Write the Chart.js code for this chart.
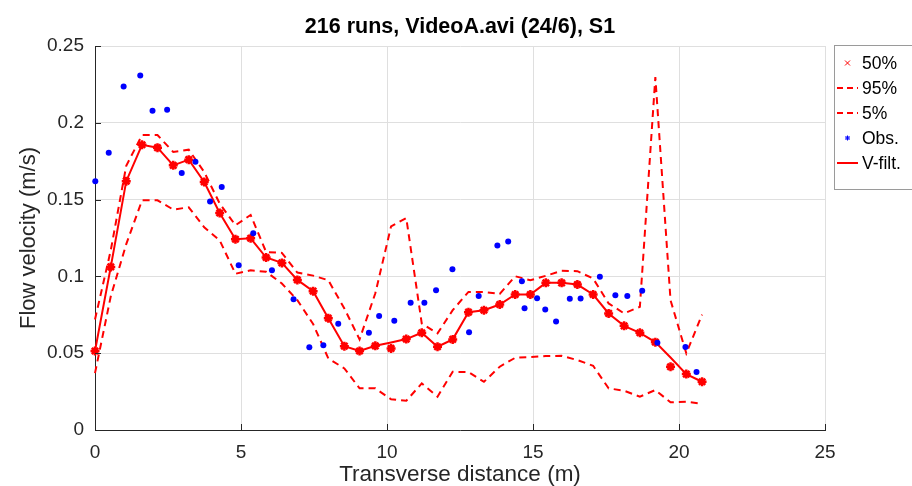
<!DOCTYPE html>
<html>
<head>
<meta charset="utf-8">
<script src="https://cdn.jsdelivr.net/npm/chart.js@4.4.0/dist/chart.umd.min.js"></script>
<style>
  html, body { margin: 0; padding: 0; background: #fff; }
  #wrap { width: 912px; height: 486px; }
</style>
</head>
<body>
<div id="wrap"><canvas id="chart" width="912" height="486"></canvas></div>
<script>
// x positions of the 50% / 95% / 5% runs (m)
const runX = [0, 0.54, 1.07, 1.61, 2.14, 2.68, 3.21, 3.74, 4.27, 4.81,
  5.33, 5.86, 6.40, 6.93, 7.47, 7.99, 8.54, 9.06, 9.60, 10.14,
  10.66, 11.19, 11.73, 12.25, 12.79, 13.32, 13.86, 14.39, 14.91, 15.44,
  15.98, 16.52, 17.06, 17.59, 18.12, 18.66, 19.19, 19.71, 20.25, 20.79];

const p50 = [0.0514, 0.1062, 0.162, 0.1857, 0.1838, 0.1723, 0.176, 0.1615, 0.1413, 0.1242,
  0.1248, 0.1123, 0.1088, 0.0977, 0.0904, 0.0728, 0.0546, 0.0514, 0.0548, 0.0531,
  0.0592, 0.0633, 0.0542, 0.0590, 0.0767, 0.0780, 0.0817, 0.0882, 0.0882, 0.0958,
  0.0958, 0.0947, 0.0882, 0.0759, 0.0678, 0.0633, 0.0572, 0.0412, 0.0364, 0.0314];

const p95 = [0.072, 0.117, 0.172, 0.192, 0.192, 0.181, 0.1825, 0.168, 0.1474, 0.1333,
  0.140, 0.1159, 0.1153, 0.1025, 0.1005, 0.0975, 0.0791, 0.0590, 0.089, 0.1326,
  0.138, 0.0694, 0.0629, 0.078, 0.0899, 0.0899, 0.0886, 0.1001, 0.0975, 0.1004,
  0.1036, 0.1034, 0.0986, 0.0824, 0.0759, 0.0802, 0.2297, 0.0845, 0.0499, 0.0751];

const p5 = [0.037, 0.087, 0.121, 0.1495, 0.1495, 0.1435, 0.145, 0.132, 0.1235, 0.1017,
  0.104, 0.103, 0.0954, 0.0845, 0.069, 0.0466, 0.0401, 0.0271, 0.0271, 0.020,
  0.019, 0.0303, 0.0217, 0.0379, 0.0377, 0.0314, 0.0412, 0.047, 0.0475, 0.0481,
  0.0483, 0.0455, 0.0418, 0.0271, 0.0256, 0.0217, 0.026, 0.018, 0.0184, 0.0171];

// filtered velocity, same x as the runs
const vFilt = [0.0514, 0.1062, 0.162, 0.1857, 0.1838, 0.1723, 0.176, 0.1615, 0.1413, 0.1242,
  0.1248, 0.1123, 0.1088, 0.0977, 0.0904, 0.0728, 0.0546, 0.0514, 0.0548, 0.0570,
  0.0592, 0.0633, 0.0542, 0.0590, 0.0767, 0.0780, 0.0817, 0.0882, 0.0882, 0.0958,
  0.0958, 0.0947, 0.0882, 0.0759, 0.0678, 0.0633, 0.0572, 0.0472, 0.0364, 0.0314];

// observed points
const obsX = [0.01, 0.47, 0.98, 1.55, 1.97, 2.47, 2.97, 3.44, 3.94, 4.34,
  4.92, 5.42, 6.06, 6.80, 7.34, 7.82, 8.33, 9.38, 9.73, 10.25,
  10.81, 11.28, 11.68, 12.24, 12.81, 13.14, 13.78, 14.15, 14.62, 14.71,
  15.14, 15.42, 15.79, 16.26, 16.63, 17.29, 17.82, 18.23, 18.74, 19.26,
  20.22, 20.6];
const obsY = [0.162, 0.1805, 0.2237, 0.2308, 0.2079, 0.2085, 0.1673, 0.1747, 0.1487, 0.1582,
  0.1073, 0.1281, 0.104, 0.0852, 0.0538, 0.0551, 0.0691, 0.0633, 0.0743, 0.0711,
  0.0828, 0.0828, 0.091, 0.1047, 0.0637, 0.0873, 0.1201, 0.1227, 0.0969, 0.0793,
  0.0858, 0.0785, 0.0707, 0.0854, 0.0856, 0.0997, 0.0878, 0.0873, 0.0906, 0.0568,
  0.054, 0.0377];

const xTicks = [0, 5, 10, 15, 20, 25];
const yTicks = [0, 0.05, 0.1, 0.15, 0.2, 0.25];
const legendNames = ['50%', '95%', '5%', 'Obs.', 'V-filt.'];

const FONT = "'Liberation Sans', Helvetica, Arial, sans-serif";
const RED = '#ff0000';
const BLUE = '#0000ff';
const AX = '#262626';

function pts(xs, ys) {
  return xs.map((x, i) => ({ x: x, y: ys[i] }));
}

// matlab style ticks pointing into the plot + the legend box on the right
const matlabBits = {
  id: 'matlabBits',
  afterDraw(chart) {
    const ctx = chart.ctx;
    const xs = chart.scales.x, ys = chart.scales.y;
    const a = chart.chartArea;
    ctx.save();
    ctx.strokeStyle = AX;
    ctx.lineWidth = 1;
    ctx.beginPath();
    xTicks.forEach(v => {
      const px = Math.round(xs.getPixelForValue(v)) + 0.5;
      ctx.moveTo(px, a.bottom); ctx.lineTo(px, a.bottom - 6);
    });
    yTicks.forEach(v => {
      const py = Math.round(ys.getPixelForValue(v)) + 0.5;
      ctx.moveTo(a.left, py); ctx.lineTo(a.left + 6, py);
    });
    ctx.stroke();

    // legend
    const bx = 834.5, by = 45.5;
    ctx.fillStyle = '#fff';
    ctx.fillRect(bx, by, 90, 144);
    ctx.strokeStyle = '#9a9a9a';
    ctx.strokeRect(bx, by, 90, 144);
    ctx.font = '17.5px ' + FONT;
    ctx.textBaseline = 'middle';
    ctx.textAlign = 'left';
    legendNames.forEach((name, i) => {
      const y = 63 + i * 25;
      const x0 = 837, x1 = 856, xm = 847.5;
      ctx.lineWidth = 2;
      ctx.setLineDash([]);
      if (i === 0) {
        ctx.strokeStyle = RED; ctx.lineWidth = 1;
        ctx.beginPath();
        ctx.moveTo(xm - 2.5, y - 2.5); ctx.lineTo(xm + 2.5, y + 2.5);
        ctx.moveTo(xm - 2.5, y + 2.5); ctx.lineTo(xm + 2.5, y - 2.5);
        ctx.stroke();
      } else if (i === 1 || i === 2) {
        ctx.strokeStyle = RED;
        ctx.setLineDash([6, 4]);
        ctx.beginPath(); ctx.moveTo(x0, y); ctx.lineTo(x1 + 2, y); ctx.stroke();
        ctx.setLineDash([]);
      } else if (i === 3) {
        ctx.strokeStyle = BLUE; ctx.lineWidth = 1;
        ctx.beginPath();
        ctx.moveTo(xm - 2.5, y); ctx.lineTo(xm + 2.5, y);
        ctx.moveTo(xm, y - 2.5); ctx.lineTo(xm, y + 2.5);
        ctx.moveTo(xm - 2, y - 2); ctx.lineTo(xm + 2, y + 2);
        ctx.moveTo(xm - 2, y + 2); ctx.lineTo(xm + 2, y - 2);
        ctx.stroke();
      } else {
        ctx.strokeStyle = RED;
        ctx.beginPath(); ctx.moveTo(x0, y); ctx.lineTo(x1 + 2, y); ctx.stroke();
      }
      ctx.fillStyle = '#000';
      ctx.fillText(name, 862, y + 1);
    });
    ctx.restore();
  }
};

const dashed = { borderColor: RED, borderWidth: 2, borderDash: [7, 5], pointRadius: 0, showLine: true, fill: false, tension: 0, clip: false };

new Chart(document.getElementById('chart'), {
  type: 'scatter',
  data: {
    datasets: [
      { label: '50%', data: pts(runX, p50), pointStyle: 'star', pointRadius: 4.5, borderWidth: 2.5,
        borderColor: RED, backgroundColor: RED, showLine: false, order: 1, clip: false },
      Object.assign({ label: '95%', data: pts(runX, p95), order: 4 }, dashed),
      Object.assign({ label: '5%', data: pts(runX, p5), order: 5 }, dashed),
      { label: 'Obs.', data: pts(obsX, obsY), pointStyle: 'circle', pointRadius: 3, borderWidth: 0,
        backgroundColor: BLUE, borderColor: BLUE, showLine: false, order: 0, clip: false },
      { label: 'V-filt.', data: pts(runX, vFilt), borderColor: RED, borderWidth: 2, pointRadius: 0,
        showLine: true, tension: 0, order: 2, clip: false }
    ]
  },
  options: {
    responsive: false,
    animation: false,
    layout: { padding: { right: 87 } },
    plugins: {
      legend: { display: false },
      tooltip: { enabled: false },
      title: {
        display: true,
        fullSize: false,
        text: '216 runs, VideoA.avi (24/6), S1',
        color: '#000',
        font: { family: FONT, size: 21.5, weight: 'bold', lineHeight: 1.2 },
        padding: { top: 14, bottom: 6.2 }
      }
    },
    scales: {
      x: {
        type: 'linear', min: 0, max: 25,
        afterFit(s) { s.height = 56; },
        afterBuildTicks(s) { s.ticks = xTicks.map(v => ({ value: v })); },
        grid: { color: '#dfdfdf', drawTicks: false },
        border: { color: AX, width: 1 },
        ticks: { color: AX, padding: 11, font: { family: FONT, size: 19 }, maxRotation: 0 },
        title: { display: true, text: 'Transverse distance (m)', color: AX,
          font: { family: FONT, size: 22.5 }, padding: { top: 0, bottom: -2 } }
      },
      y: {
        type: 'linear', min: 0, max: 0.25,
        afterFit(s) { s.width = 95; },
        afterBuildTicks(s) { s.ticks = yTicks.map(v => ({ value: v })); },
        grid: { color: '#dfdfdf', drawTicks: false },
        border: { color: AX, width: 1 },
        ticks: { color: AX, padding: 11, font: { family: FONT, size: 19 },
          callback: v => String(Math.round(v * 100) / 100) },
        title: { display: true, text: 'Flow velocity (m/s)', color: AX,
          font: { family: FONT, size: 22 }, padding: { top: 16, bottom: 0 } }
      }
    }
  },
  plugins: [matlabBits]
});
</script>
</body>
</html>
